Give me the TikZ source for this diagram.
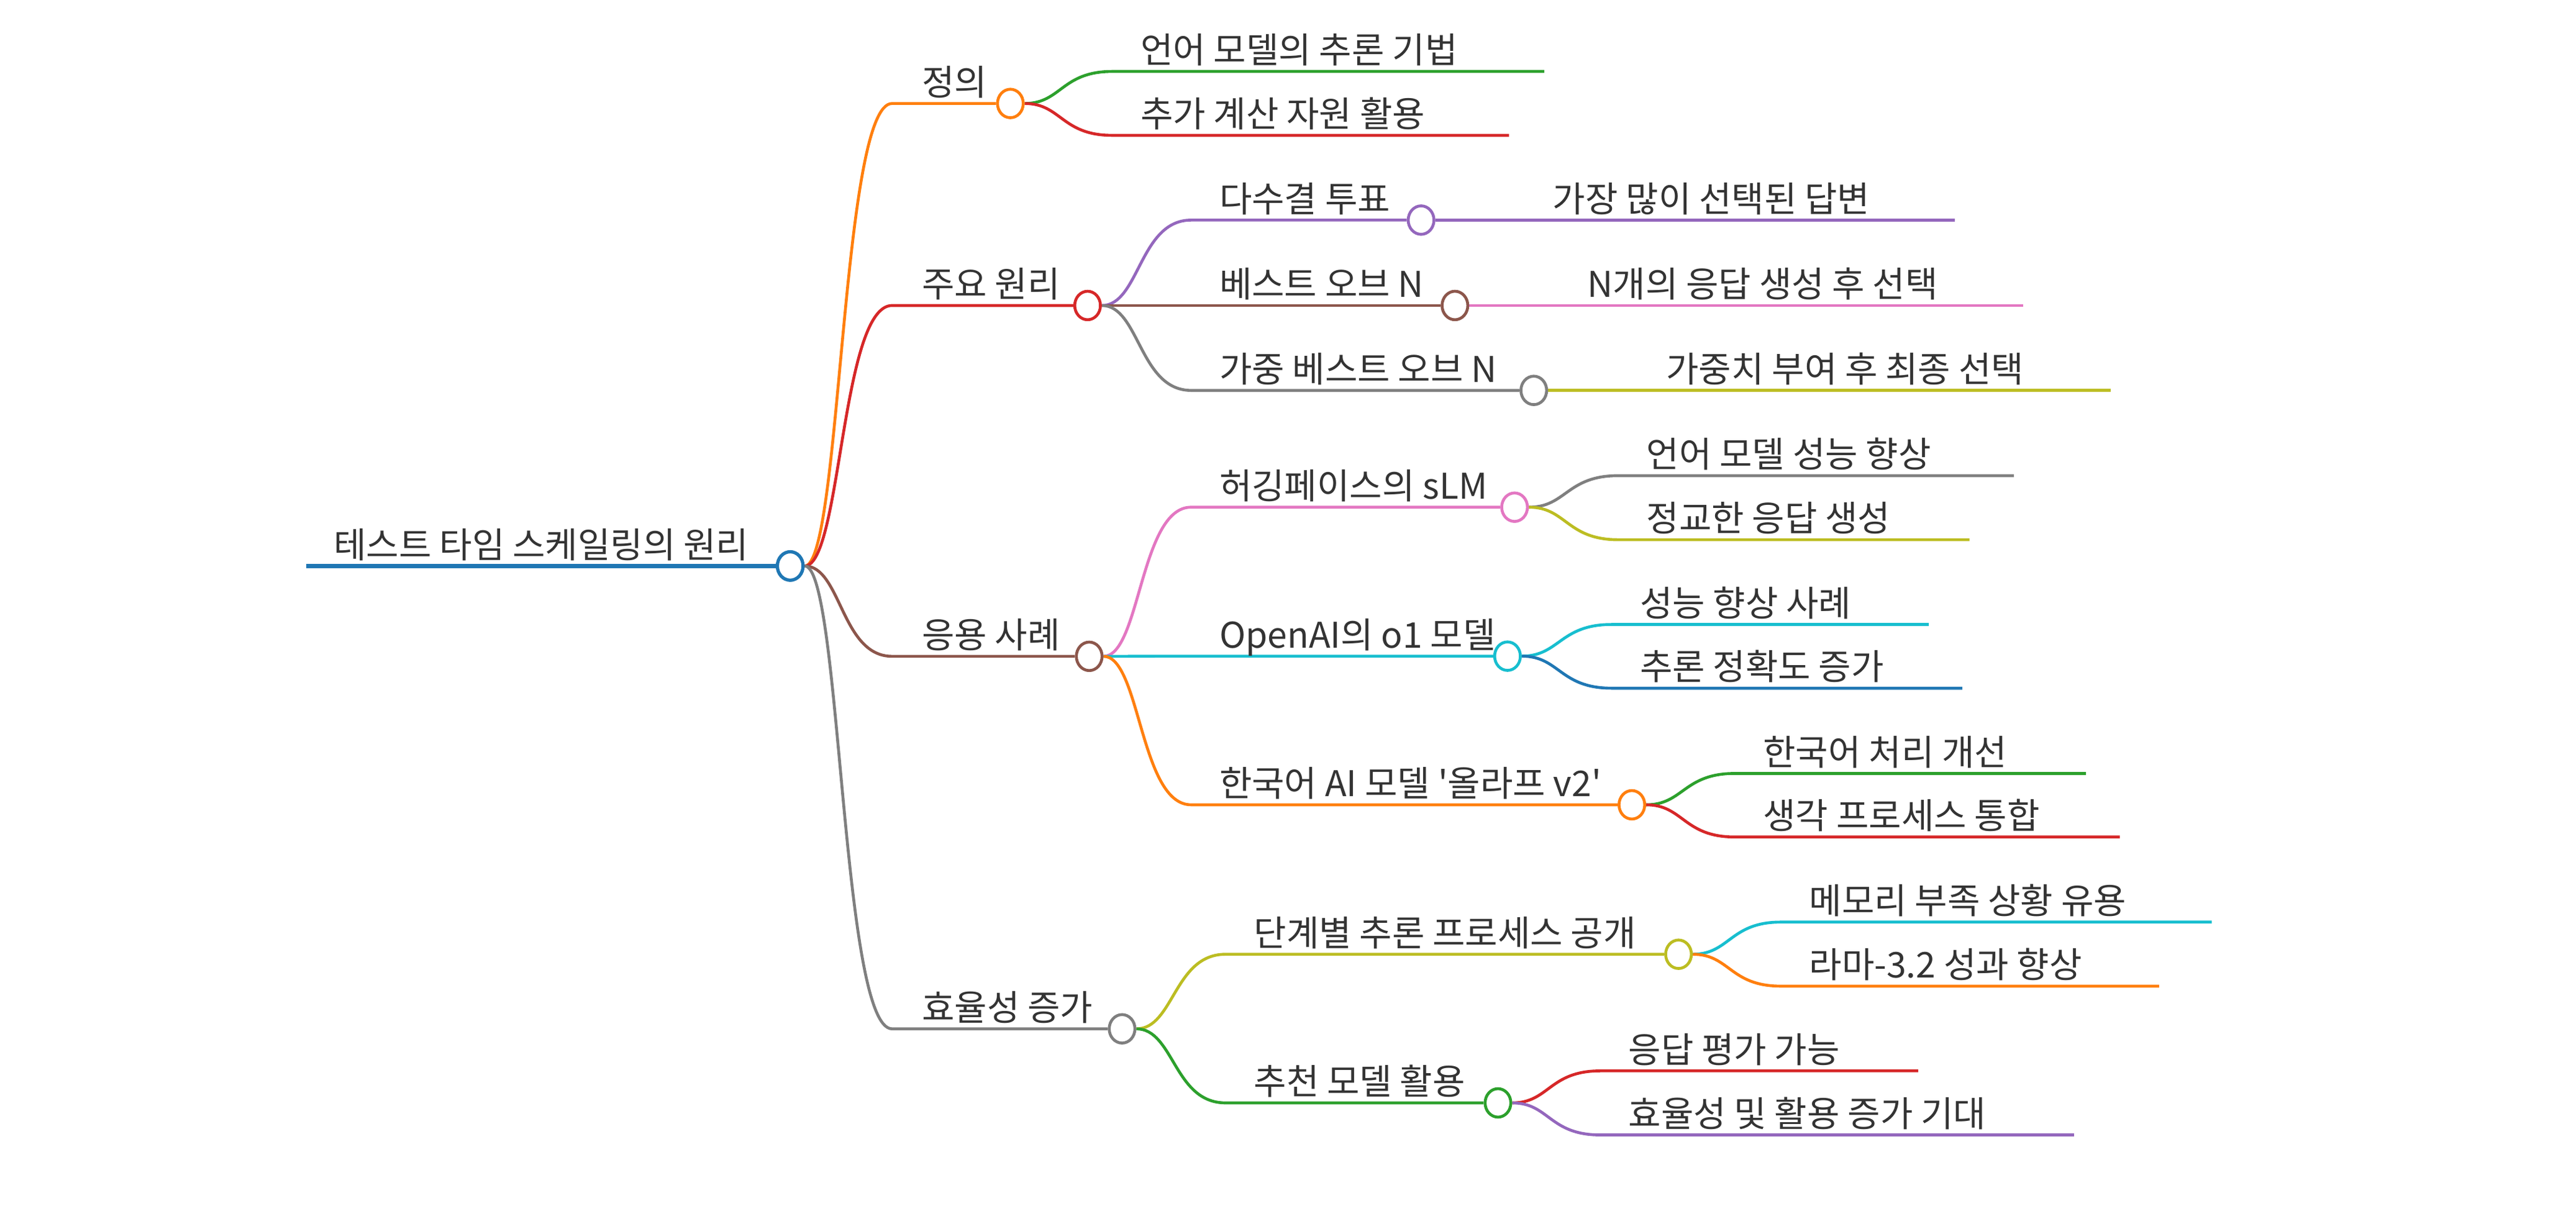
\documentclass[tikz,border=0pt]{standalone}
\usepackage{fontspec}
\newfontfamily\kfont{Noto Sans CJK KR}
\usepackage{tikz}
\usetikzlibrary{calc,shapes.geometric,backgrounds}

\definecolor{mblue}{HTML}{1F77B4}
\definecolor{morange}{HTML}{FF7F0E}
\definecolor{mgreen}{HTML}{2CA02C}
\definecolor{mred}{HTML}{D62728}
\definecolor{mpurple}{HTML}{9467BD}
\definecolor{mbrown}{HTML}{8C564B}
\definecolor{mpink}{HTML}{E377C2}
\definecolor{mgray}{HTML}{7F7F7F}
\definecolor{molive}{HTML}{BCBD22}
\definecolor{mcyan}{HTML}{17BECF}
\definecolor{textgray}{HTML}{333333}

\begin{document}
\begin{tikzpicture}[x=0.03cm,y=-0.03cm,
    txt/.style={anchor=base west,inner sep=0pt,text=textgray,font=\kfont\fontsize{18.4}{22}\selectfont},
    dot/.style={ellipse,draw,fill=white,line width=1.5pt,minimum width=0.47cm,minimum height=0.52cm,inner sep=0pt},
    link/.style={line width=1.5pt,to path={let \p1=(\tikztostart),\p2=(\tikztotarget) in
        .. controls ({0.5*\x1+0.5*\x2},\y1) and ({0.5*\x1+0.5*\x2},\y2) .. (\tikztotarget)}}]
    \useasboundingbox (0,0) rectangle (1568,745);

    % root
    \coordinate (r0) at (186.4,344.6);
    \node[dot,draw=mblue,line width=1.7pt] (n0) at (481,344.6) {};
    \node[txt] (t0) at (203,339.6) {테스트 타임 스케일링의 원리};

    % first level
    \node[dot,draw=morange] (n1) at (615,63) {};
    \node[dot,draw=mred]    (n2) at (662,186) {};
    \node[dot,draw=mbrown]  (n3) at (663,399.6) {};
    \node[dot,draw=mgray]   (n4) at (683,626.4) {};
    \node[txt] (t1) at (561,58) {정의};
    \node[txt] (t2) at (561,181) {주요 원리};
    \node[txt] (t3) at (561,394.6) {응용 사례};
    \node[txt] (t4) at (561,621.4) {효율성 증가};
    \coordinate (s1) at (543,63);
    \coordinate (s2) at (543,186);
    \coordinate (s3) at (543,399.6);
    \coordinate (s4) at (543,626.4);

    % second level
    \node[dot,draw=mpurple] (n21) at (865,134) {};
    \node[dot,draw=mbrown]  (n22) at (885.6,186) {};
    \node[dot,draw=mgray]   (n23) at (933.6,237.7) {};
    \node[dot,draw=mpink]   (n31) at (921.9,308.8) {};
    \node[dot,draw=mcyan]   (n32) at (917.6,399.5) {};
    \node[dot,draw=morange] (n33) at (993.3,490) {};
    \node[dot,draw=molive]  (n41) at (1021.7,581) {};
    \node[dot,draw=mgreen]  (n42) at (911.8,671.5) {};
    \node[txt] (t21) at (742,129) {다수결 투표};
    \node[txt] (t22) at (742,181) {베스트 오브 N};
    \node[txt] (t23) at (742,232.7) {가중 베스트 오브 N};
    \node[txt] (t31) at (742,303.8) {허깅페이스의 sLM};
    \node[txt] (t32) at (742,394.5) {OpenAI의 o1 모델};
    \node[txt] (t33) at (742,485) {한국어 AI 모델 '올라프 v2'};
    \node[txt] (t41) at (763,576) {단계별 추론 프로세스 공개};
    \node[txt] (t42) at (763,666.5) {추천 모델 활용};
    \coordinate (s21) at (725,134);
    \coordinate (s22) at (725,186);
    \coordinate (s23) at (725,237.7);
    \coordinate (s31) at (725,308.8);
    \coordinate (s32) at (725,399.5);
    \coordinate (s33) at (725,490);
    \coordinate (s41) at (746,581);
    \coordinate (s42) at (746,671.5);

    \begin{scope}[on background layer]
        \draw[line width=2pt,mblue] (r0) -- (n0);
        \draw[link,morange] (n0) to (s1) -- (n1);
        \draw[link,mred]    (n0) to (s2) -- (n2);
        \draw[link,mbrown]  (n0) to (s3) -- (n3);
        \draw[link,mgray]   (n0) to (s4) -- (n4);
        \draw[link,mpurple] (n2) to (s21) -- (n21);
        \draw[link,mbrown]  (n2) to (s22) -- (n22);
        \draw[link,mgray]   (n2) to (s23) -- (n23);
        \draw[link,mpink]   (n3) to (s31) -- (n31);
        \draw[link,mcyan]   (n3) to (s32) -- (n32);
        \draw[link,morange] (n3) to (s33) -- (n33);
        \draw[link,molive]  (n4) to (s41) -- (n41);
        \draw[link,mgreen]  (n4) to (s42) -- (n42);
    \end{scope}

    % leaves: parent / start x / y / end x / colour / text
    \foreach \from/\sx/\sy/\ex/\col/\lab [count=\i] in {
        n1/677/43.5/940/mgreen/언어 모델의 추론 기법,
        n1/677/82.4/918.5/mred/추가 계산 자원 활용,
        n21/928/134/1190/mpurple/가장 많이 선택된 답변,
        n22/949/186/1231.5/mpink/N개의 응답 생성 후 선택,
        n23/997/237.7/1284.8/molive/가중치 부여 후 최종 선택,
        n31/985/289.6/1225.8/mgray/언어 모델 성능 향상,
        n31/985/328.6/1198.8/molive/정교한 응답 생성,
        n32/981/380.2/1174/mcyan/성능 향상 사례,
        n32/981/419/1194.5/mblue/추론 정확도 증가,
        n33/1056/470.9/1269.7/mgreen/한국어 처리 개선,
        n33/1056/509.6/1290.3/mred/생각 프로세스 통합,
        n41/1084/561.4/1346.3/mcyan/메모리 부족 상황 유용,
        n41/1084/600.4/1314.2/morange/라마-3.2 성과 향상,
        n42/974/652/1167.6/mred/응답 평가 가능,
        n42/974/691/1262.4/mpurple/효율성 및 활용 증가 기대}
    {
        \node[txt] (leaf\i) at (\sx+17,\sy-5) {\lab};
        \coordinate (ls\i) at (\sx,\sy);
        \coordinate (le\i) at (\ex,\sy);
        \begin{scope}[on background layer]
            \draw[link,\col] (\from) to (ls\i) -- (le\i);
        \end{scope}
    }
\end{tikzpicture}
\end{document}
